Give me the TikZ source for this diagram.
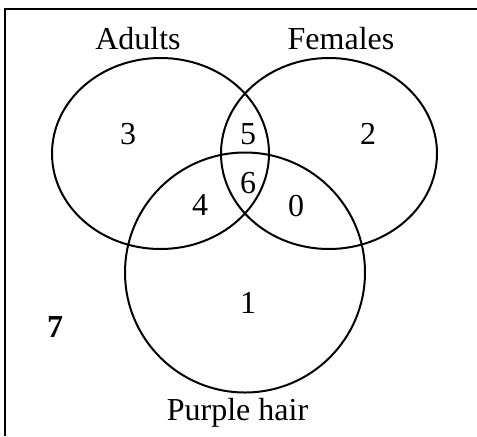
\documentclass[tikz,border=0pt]{standalone}
\usepackage{fontspec}
\setmainfont{Liberation Serif}
\usetikzlibrary{calc}

\begin{document}
\begin{tikzpicture}[x=0.5pt, y=-0.5pt, line width=1pt,
  lbl/.style={inner sep=0pt, anchor=base, font=\fontsize{16}{19}\selectfont}]
  \useasboundingbox (0,0) rectangle (477,436);
  \draw (477,9) -- (5,9) -- (5,436);
  \coordinate (A) at (160.5,153.5);
  \coordinate (F) at (329,153.5);
  \coordinate (P) at (245,272.5);
  \draw (A) ellipse [x radius=108.5, y radius=95.5];
  \draw (F) ellipse [x radius=108, y radius=95.5];
  \draw (P) circle [radius=120];
  \node[lbl] (adults) at (138,49) {Adults};
  \node[lbl] (females) at (341,49) {Females};
  \node[lbl] (hair) at (237.5,420) {Purple hair};
  \node[lbl] (a) at (128,144) {3};
  \node[lbl] (f) at (368,144) {2};
  \node[lbl] (af) at (248,144) {5};
  \node[lbl] (afp) at (248,193) {6};
  \node[lbl] (ap) at (200,215) {4};
  \node[lbl] (fp) at (296,216) {0};
  \node[lbl] (p) at (248,313) {1};
  \node[lbl, font=\fontsize{16}{19}\selectfont\bfseries] (none) at (55,337) {7};
\end{tikzpicture}
\end{document}
